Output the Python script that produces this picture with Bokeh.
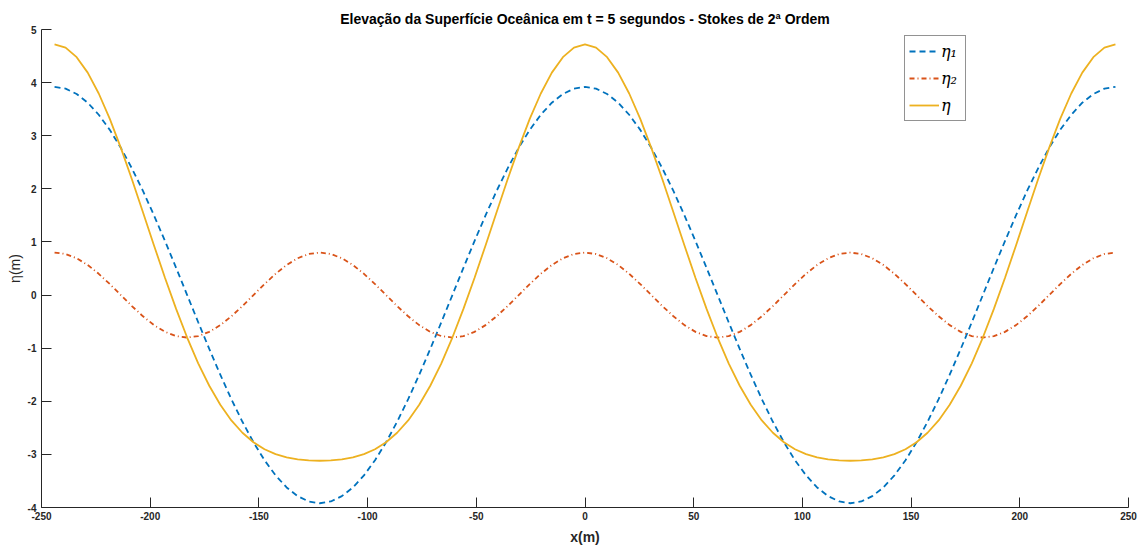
from bokeh.plotting import figure
from bokeh.models import Range1d, FixedTicker, Legend, LegendItem
from bokeh.embed import file_html
from bokeh.resources import INLINE

x_m = [
    -244, -238.92, -233.83, -228.75, -223.67, -218.58, -213.5, -208.42, -203.33, -198.25, -193.17, -188.08,
    -183, -177.92, -172.83, -167.75, -162.67, -157.58, -152.5, -147.42, -142.33, -137.25, -132.17, -127.08,
    -122, -116.92, -111.83, -106.75, -101.67, -96.58, -91.5, -86.42, -81.33, -76.25, -71.17, -66.08,
    -61, -55.92, -50.83, -45.75, -40.67, -35.58, -30.5, -25.42, -20.33, -15.25, -10.17, -5.08,
    0, 5.08, 10.17, 15.25, 20.33, 25.42, 30.5, 35.58, 40.67, 45.75, 50.83, 55.92,
    61, 66.08, 71.17, 76.25, 81.33, 86.42, 91.5, 96.58, 101.67, 106.75, 111.83, 116.92,
    122, 127.08, 132.17, 137.25, 142.33, 147.42, 152.5, 157.58, 162.67, 167.75, 172.83, 177.92,
    183, 188.08, 193.17, 198.25, 203.33, 208.42, 213.5, 218.58, 223.67, 228.75, 233.83, 238.92,
    244,
]

eta1 = [
    3.92, 3.886, 3.786, 3.622, 3.395, 3.11, 2.772, 2.386, 1.96, 1.5, 1.015, 0.512,
    0.0, -0.512, -1.015, -1.5, -1.96, -2.386, -2.772, -3.11, -3.395, -3.622, -3.786, -3.886,
    -3.92, -3.886, -3.786, -3.622, -3.395, -3.11, -2.772, -2.386, -1.96, -1.5, -1.015, -0.512,
    0.0, 0.512, 1.015, 1.5, 1.96, 2.386, 2.772, 3.11, 3.395, 3.622, 3.786, 3.886,
    3.92, 3.886, 3.786, 3.622, 3.395, 3.11, 2.772, 2.386, 1.96, 1.5, 1.015, 0.512,
    0.0, -0.512, -1.015, -1.5, -1.96, -2.386, -2.772, -3.11, -3.395, -3.622, -3.786, -3.886,
    -3.92, -3.886, -3.786, -3.622, -3.395, -3.11, -2.772, -2.386, -1.96, -1.5, -1.015, -0.512,
    0.0, 0.512, 1.015, 1.5, 1.96, 2.386, 2.772, 3.11, 3.395, 3.622, 3.786, 3.886,
    3.92,
]

eta2 = [
    0.8, 0.773, 0.693, 0.566, 0.4, 0.207, 0.0, -0.207, -0.4, -0.566, -0.693, -0.773,
    -0.8, -0.773, -0.693, -0.566, -0.4, -0.207, 0.0, 0.207, 0.4, 0.566, 0.693, 0.773,
    0.8, 0.773, 0.693, 0.566, 0.4, 0.207, 0.0, -0.207, -0.4, -0.566, -0.693, -0.773,
    -0.8, -0.773, -0.693, -0.566, -0.4, -0.207, 0.0, 0.207, 0.4, 0.566, 0.693, 0.773,
    0.8, 0.773, 0.693, 0.566, 0.4, 0.207, 0.0, -0.207, -0.4, -0.566, -0.693, -0.773,
    -0.8, -0.773, -0.693, -0.566, -0.4, -0.207, 0.0, 0.207, 0.4, 0.566, 0.693, 0.773,
    0.8, 0.773, 0.693, 0.566, 0.4, 0.207, 0.0, -0.207, -0.4, -0.566, -0.693, -0.773,
    -0.8, -0.773, -0.693, -0.566, -0.4, -0.207, 0.0, 0.207, 0.4, 0.566, 0.693, 0.773,
    0.8,
]

eta = [
    4.72, 4.659, 4.479, 4.188, 3.795, 3.317, 2.772, 2.179, 1.56, 0.934, 0.322, -0.261,
    -0.8, -1.285, -1.708, -2.066, -2.36, -2.593, -2.772, -2.903, -2.995, -3.056, -3.093, -3.113,
    -3.12, -3.113, -3.093, -3.056, -2.995, -2.903, -2.772, -2.593, -2.36, -2.066, -1.708, -1.285,
    -0.8, -0.261, 0.322, 0.934, 1.56, 2.179, 2.772, 3.317, 3.795, 4.188, 4.479, 4.659,
    4.72, 4.659, 4.479, 4.188, 3.795, 3.317, 2.772, 2.179, 1.56, 0.934, 0.322, -0.261,
    -0.8, -1.285, -1.708, -2.066, -2.36, -2.593, -2.772, -2.903, -2.995, -3.056, -3.093, -3.113,
    -3.12, -3.113, -3.093, -3.056, -2.995, -2.903, -2.772, -2.593, -2.36, -2.066, -1.708, -1.285,
    -0.8, -0.261, 0.322, 0.934, 1.56, 2.179, 2.772, 3.317, 3.795, 4.188, 4.479, 4.659,
    4.72,
]

x_ticks = [-250, -200, -150, -100, -50, 0, 50, 100, 150, 200, 250]
y_ticks = [-4, -3, -2, -1, 0, 1, 2, 3, 4, 5]

title_text = "Elevação da Superfície Oceânica em t = 5 segundos - Stokes de 2ª Ordem"
x_label = "x(m)"
y_label = "η(m)"
legend_labels = ["η₁", "η₂", "η"]
colors = ["#0072BD", "#D95319", "#EDB120"]

FONT = "Liberation Sans"
AXC = "#262626"

p = figure(width=1142, height=548, output_backend="svg", toolbar_location=None,
           x_range=Range1d(-250, 250), y_range=Range1d(-4, 5),
           min_border_left=41, min_border_right=14, min_border_top=29, min_border_bottom=41)

p.title.text = title_text
p.title.align = "center"
p.title.vertical_align = "middle"
p.title.text_font = FONT
p.title.text_font_size = "14px"
p.title.text_font_style = "bold"
p.title.text_color = "#000000"
p.title.standoff = 4

p.outline_line_color = None
p.xgrid.grid_line_color = None
p.ygrid.grid_line_color = None
p.background_fill_color = "white"
p.border_fill_color = "white"

for ax in (p.xaxis[0], p.yaxis[0]):
    ax.axis_line_color = AXC
    ax.axis_line_width = 1
    ax.major_tick_line_color = AXC
    ax.major_tick_in = 10
    ax.major_tick_out = 0
    ax.minor_tick_line_color = None
    ax.major_label_text_font = FONT
    ax.major_label_text_font_size = "10px"
    ax.major_label_text_font_style = "bold"
    ax.major_label_text_color = AXC
    ax.axis_label_text_font = FONT
    ax.axis_label_text_font_size = "14px"
    ax.axis_label_text_color = AXC

p.xaxis.ticker = FixedTicker(ticks=x_ticks)
p.yaxis.ticker = FixedTicker(ticks=y_ticks)
p.xaxis.major_label_overrides = {t: str(t) for t in x_ticks}
p.yaxis.major_label_overrides = {t: str(t) for t in y_ticks}
p.xaxis.axis_label = x_label
p.yaxis.axis_label = y_label
p.xaxis.axis_label_text_font_style = "bold"
p.yaxis.axis_label_text_font_style = "normal"
p.xaxis.major_label_standoff = 4
p.xaxis.axis_label_standoff = 6
p.yaxis.major_label_standoff = 5
p.yaxis.axis_label_standoff = 2

r1 = p.line(x_m, eta1, line_color=colors[0], line_width=1.8, line_dash="6 4")
r2 = p.line(x_m, eta2, line_color=colors[1], line_width=1.8, line_dash="5 3 1 3")
r3 = p.line(x_m, eta, line_color=colors[2], line_width=1.8)

legend = Legend(items=[LegendItem(label=legend_labels[0], renderers=[r1]),
                       LegendItem(label=legend_labels[1], renderers=[r2]),
                       LegendItem(label=legend_labels[2], renderers=[r3])],
                location=(863, 386))
legend.label_text_font = "DejaVu Serif"
legend.label_text_font_style = "italic"
legend.label_text_font_size = "16px"
legend.label_text_color = "#000000"
legend.label_standoff = 2
legend.glyph_width = 30
legend.glyph_height = 22
legend.label_height = 22
legend.spacing = 5
legend.padding = 4
legend.margin = 0
legend.border_line_color = AXC
legend.border_line_width = 1
legend.background_fill_alpha = 1.0
p.add_layout(legend)

open("out.html", "w").write(file_html(p, INLINE))
